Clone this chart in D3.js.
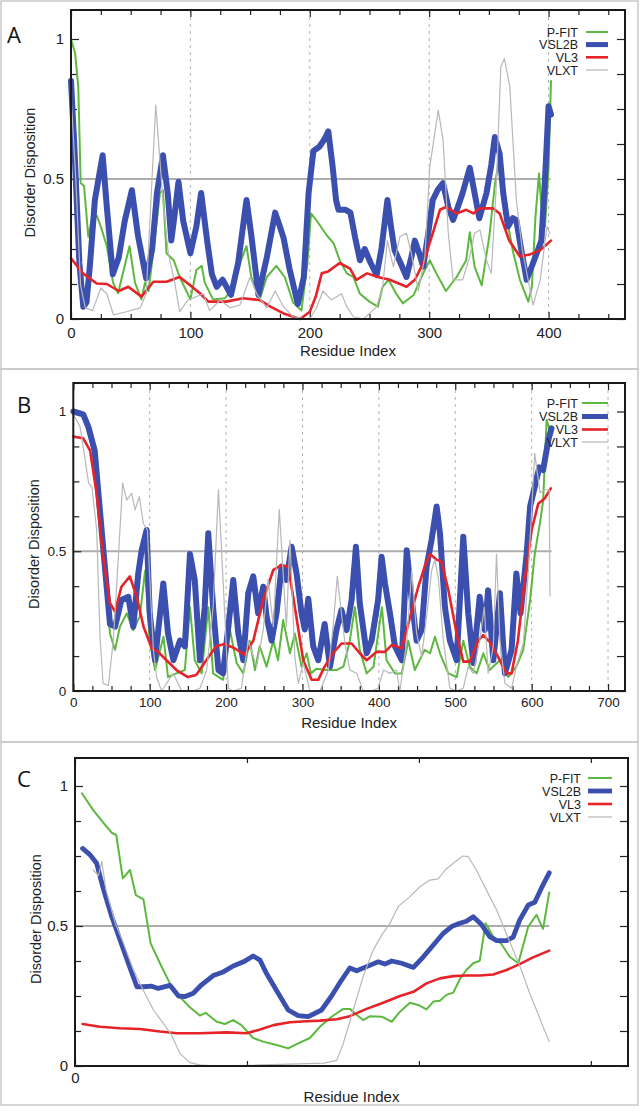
<!DOCTYPE html>
<html><head><meta charset="utf-8">
<script src="https://cdn.jsdelivr.net/npm/d3@7"></script>
<style>body{margin:0;background:#fff}svg{display:block}</style>
</head><body><svg id="c" width="641" height="1115"></svg>
<script>
// ---------- series meta ----------
const seriesNames = ["P-FIT", "VSL2B", "VL3", "VLXT"];
const seriesColors = ["#5cb83e", "#3a4fae", "#e52328", "#b8b8b8"];
const yTickLabels = [0, 0.5, 1];

// ---------- Panel A (residue, disorder) ----------
const pfitA = [[0,1.0],[3.4,0.95],[6.1,0.83],[8.1,0.486],[10.9,0.475],[14.5,0.294],[17.3,0.354],[21.5,0.37],[25,0.33],[30,0.26],[35.2,0.13],[39.4,0.092],[45,0.19],[49,0.26],[53.6,0.13],[59,0.07],[62,0.13],[65,0.1],[70,0.28],[74.5,0.45],[77,0.46],[80,0.235],[86,0.21],[91,0.15],[100,0.07],[105,0.175],[109.5,0.19],[112,0.13],[119,0.07],[129,0.074],[136,0.115],[141.5,0.2],[147,0.26],[151,0.15],[158,0.07],[164,0.15],[172,0.19],[179,0.15],[186,0.06],[193,0.03],[198,0.2],[201,0.377],[206,0.35],[214,0.3],[220,0.27],[225,0.21],[231,0.163],[236.5,0.15],[242,0.09],[250,0.062],[257,0.044],[261,0.115],[266,0.14],[273,0.086],[278,0.056],[287,0.086],[295,0.163],[300.5,0.21],[306,0.163],[314,0.1],[323,0.15],[331,0.21],[334,0.31],[338,0.187],[344,0.12],[350.5,0.3],[355,0.48],[358,0.556],[362,0.425],[370.5,0.235],[376,0.14],[383,0.062],[386,0.115],[389,0.365],[392,0.52],[394,0.4],[397,0.33],[400,0.54],[402,0.85]];
const vsl2bA = [[0,0.85],[3,0.6],[7,0.2],[10.3,0.044],[13,0.06],[16,0.2],[20,0.425],[26.5,0.585],[30,0.4],[35,0.16],[40,0.22],[45,0.35],[51,0.46],[56,0.3],[63,0.145],[68,0.25],[72,0.45],[77,0.585],[81,0.45],[84,0.28],[87,0.38],[90,0.49],[94,0.35],[100,0.235],[105,0.33],[109,0.45],[114,0.28],[118,0.16],[122,0.115],[127,0.14],[134,0.086],[140,0.2],[147,0.425],[151,0.3],[157,0.086],[164,0.22],[171,0.38],[175,0.33],[178,0.29],[183,0.18],[190,0.053],[195,0.15],[199,0.45],[203,0.6],[208,0.615],[212,0.64],[215.5,0.67],[219,0.55],[222,0.425],[224,0.39],[230,0.39],[234,0.38],[238,0.29],[242,0.21],[246,0.25],[251,0.2],[256,0.157],[260,0.25],[265,0.425],[268,0.33],[271,0.246],[276,0.2],[281,0.15],[285,0.22],[288,0.28],[292,0.23],[295,0.187],[299,0.3],[303,0.425],[307,0.46],[311.6,0.485],[316,0.4],[320,0.354],[324,0.4],[328,0.45],[334,0.54],[338,0.45],[342,0.36],[348,0.45],[352,0.55],[355,0.65],[359,0.59],[362,0.45],[366,0.33],[370,0.36],[373,0.353],[377,0.25],[381.6,0.14],[387,0.2],[394,0.28],[397,0.5],[400,0.76],[402,0.73]];
const vl3A = [[0,0.217],[10,0.163],[21.5,0.127],[30,0.125],[40,0.1],[48,0.115],[59,0.08],[69,0.133],[80,0.133],[91,0.15],[100,0.12],[108,0.092],[115,0.062],[130,0.062],[144,0.074],[158,0.068],[167,0.044],[178,0.02],[192,0.0],[200,0.026],[205,0.08],[210,0.163],[215.5,0.17],[225,0.2],[233.7,0.18],[239,0.14],[248,0.163],[257,0.15],[267,0.14],[281,0.115],[288,0.14],[295,0.2],[303,0.306],[309,0.39],[314,0.4],[323,0.377],[331,0.39],[337,0.377],[342,0.395],[353.6,0.395],[359,0.377],[367,0.28],[376,0.223],[384,0.23],[393,0.246],[402,0.28]];
const vlxtA = [[0,0.8],[4,0.5],[8,0.12],[12,0.04],[18,0.03],[25,0.11],[30,0.09],[35.5,0.015],[46.6,0.026],[58,0.04],[63,0.09],[71,0.764],[77,0.425],[81.5,0.235],[87,0.127],[91,0.026],[98,0.068],[105,0.08],[111,0.09],[116,0.03],[125,0.068],[133,0.04],[141.5,0.05],[150,0.15],[155.5,0.09],[164,0.04],[171,0.1],[178,0.044],[186,0.008],[197,0],[200,0],[206,0.044],[211,0.1],[218,0.068],[226.6,0.09],[231,0.044],[236.5,0.008],[245,0],[256,0.044],[261,0.115],[265,0.28],[270,0.187],[275.5,0.294],[281,0.306],[285,0.235],[290.9,0.1],[296.4,0.223],[300.5,0.544],[307.6,0.746],[311.6,0.64],[316,0.306],[320,0.14],[328,0.14],[334,0.223],[338,0.306],[342.5,0.318],[348,0.21],[352,0.163],[356,0.46],[360,0.9],[363,0.93],[367.5,0.83],[373,0.425],[378,0.246],[387,0.05],[393,0.14],[398.6,0.33],[401,0.306]];

// ---------- Panel B ----------
const pfitB = [[0,1.0],[13,0.99],[22,0.91],[30.5,0.78],[39,0.49],[48,0.206],[54.6,0.147],[61,0.23],[70,0.278],[78.5,0.218],[87,0.266],[94,0.43],[100,0.18],[107,0.075],[118,0.194],[124,0.05],[135,0.063],[146,0.075],[152.7,0.3],[159,0.11],[168,0.063],[176.7,0.3],[183,0.063],[196,0.04],[205,0.218],[213.8,0.1],[222.5,0.063],[231,0.18],[237.8,0.075],[244,0.16],[253,0.087],[261.8,0.18],[268,0.11],[274.7,0.254],[283.6,0.135],[290,0.206],[298.8,0.087],[305.5,0.135],[311,0.063],[318.6,0.08],[331.6,0.075],[344.5,0.075],[353.6,0.087],[362,0.18],[368.6,0.3],[375,0.147],[384,0.063],[393,0.087],[404,0.3],[410,0.11],[421,0.063],[430,0.063],[438.5,0.18],[447,0.075],[460,0.147],[467,0.135],[473.4,0.194],[480,0.135],[491,0.063],[502,0.05],[510.5,0.18],[519,0.087],[528,0.063],[536.7,0.135],[545,0.075],[558.5,0.11],[569.4,0.05],[580,0.087],[589,0.147],[598,0.326],[604,0.49],[610.8,0.6],[615,0.68],[619.6,0.97],[622,0.95],[625,0.91]];
const vsl2bB = [[0,1.0],[13,0.99],[19.7,0.945],[28,0.86],[39,0.516],[48,0.24],[54.6,0.23],[63,0.326],[72,0.337],[78.5,0.23],[85,0.42],[89.5,0.504],[96,0.576],[100,0.278],[107,0.11],[117.8,0.385],[124,0.206],[131,0.11],[139.6,0.18],[146,0.16],[152.7,0.49],[159,0.397],[165.8,0.11],[172,0.3],[176.7,0.564],[183,0.3],[190,0.075],[196,0.063],[203,0.23],[209.4,0.397],[216,0.206],[222.5,0.11],[229,0.35],[235.6,0.41],[242,0.278],[248.6,0.373],[253,0.266],[259.6,0.18],[266,0.278],[272.7,0.445],[279,0.397],[285.8,0.516],[292.3,0.42],[298.8,0.278],[303,0.22],[307.6,0.33],[314,0.16],[320.7,0.11],[329,0.24],[336,0.087],[344.5,0.218],[351,0.29],[357.8,0.218],[364.3,0.326],[370,0.516],[375,0.314],[384,0.135],[390.5,0.18],[399,0.326],[403.6,0.48],[408,0.385],[414.5,0.278],[421,0.16],[430,0.11],[436.5,0.504],[443,0.326],[449.4,0.18],[456,0.218],[462.5,0.445],[469,0.54],[475.6,0.66],[480,0.564],[486.5,0.3],[493,0.18],[501.8,0.11],[510.5,0.552],[517,0.278],[523.6,0.1],[532,0.337],[538.8,0.218],[543,0.36],[549.8,0.11],[558.5,0.35],[565,0.063],[573.7,0.147],[580,0.42],[585.5,0.278],[593.4,0.49],[598,0.66],[604,0.73],[610,0.8],[615,0.79],[622,0.9],[626,0.94]];
const vl3B = [[0,0.91],[13,0.904],[22,0.86],[30.5,0.707],[39,0.48],[48,0.314],[54.6,0.284],[63,0.373],[74,0.41],[83,0.337],[92,0.23],[102.6,0.153],[111,0.14],[122,0.11],[135,0.075],[150,0.05],[161,0.057],[174,0.11],[187,0.16],[198,0.168],[211,0.153],[224,0.13],[235.6,0.18],[248.6,0.326],[261.8,0.433],[272.7,0.45],[281.4,0.445],[290,0.3],[301,0.11],[312,0.04],[320.6,0.04],[329,0.087],[340,0.135],[351,0.17],[364.3,0.17],[375,0.135],[384,0.11],[397,0.14],[408,0.14],[417,0.165],[430,0.153],[441,0.266],[451.6,0.373],[460,0.445],[467,0.49],[475.6,0.47],[482,0.463],[491,0.36],[501.8,0.206],[510.5,0.105],[519,0.105],[530,0.18],[536.7,0.2],[545,0.176],[556,0.123],[567,0.063],[573.7,0.063],[582,0.18],[591,0.397],[600,0.576],[608.6,0.67],[617.4,0.69],[625,0.725]];
const vlxtB = [[0,0.99],[8.7,0.946],[15,0.838],[20,0.744],[24.4,0.73],[30.6,0.576],[35,0.194],[39,0.027],[46,0.02],[52.4,0.182],[59,0.48],[64.6,0.744],[69.9,0.683],[76.4,0.707],[80.8,0.648],[86.5,0.695],[91.6,0.6],[97,0.576],[104.8,0.147],[109,0.05],[115.6,0],[122,0.027],[131,0.063],[141.8,0],[157,0],[165.8,0.01],[174.6,0.075],[183,0.3],[190,0.72],[196,0.4],[202.9,0.01],[209.4,0],[220,0.01],[229,0.18],[240,0.087],[248.6,0.218],[255,0.4],[261.8,0.23],[269.6,0.65],[274.7,0.42],[279,0.23],[283.6,0.54],[290,0.123],[294.5,0.027],[301,0.1],[309.8,0],[323,0],[334,0.075],[340.4,0.24],[345.6,0.41],[351,0.278],[355.7,0.17],[362,0.075],[371,0.063],[379.6,0],[390.5,0],[399,0.01],[406,0.075],[414.5,0.063],[423,0.075],[427.6,0],[436.5,0.18],[443,0.43],[449.4,0.206],[456,0.123],[462.5,0.266],[469,0.43],[473.4,0.47],[478,0.4],[484.4,0.18],[493,0.01],[502,0],[510.5,0.01],[517,0.087],[523.6,0.063],[532,0.18],[538,0.3],[543,0.063],[549.8,0.16],[554,0.49],[558.5,0.18],[565,0.027],[573.7,0.01],[580,0.087],[589,0.17],[595.5,0.42],[604,0.85],[611,0.71],[617.4,0.72],[623,0.72],[624,0.34]];

// ---------- Panel C ----------
const pfitC = [[2,0.974],[5.3,0.914],[8.8,0.86],[10.7,0.833],[12,0.825],[13.9,0.67],[16,0.7],[17.7,0.61],[19.9,0.595],[22,0.438],[24.7,0.367],[28.6,0.27],[33.4,0.21],[36.3,0.18],[38,0.19],[41.2,0.158],[43.6,0.15],[46,0.164],[48.4,0.146],[51.8,0.1],[54.7,0.087],[58.6,0.075],[62,0.063],[64.9,0.081],[68.3,0.1],[71.2,0.14],[74.6,0.176],[78,0.204],[79.9,0.204],[81.4,0.188],[83.8,0.164],[85.8,0.178],[89.2,0.176],[92.1,0.158],[94.5,0.194],[97.4,0.226],[99.8,0.218],[102.2,0.202],[104.2,0.23],[106.1,0.233],[108,0.254],[110,0.262],[111.9,0.31],[113.8,0.343],[115.8,0.367],[117.7,0.376],[119.4,0.51],[121.6,0.462],[124,0.436],[126.4,0.39],[128.9,0.367],[131.8,0.498],[134.2,0.54],[136.1,0.49],[137.9,0.62]];
const vsl2bC = [[2.2,0.777],[4.4,0.754],[6.3,0.724],[8.3,0.63],[10.7,0.533],[13.1,0.45],[15.5,0.367],[18,0.283],[19.9,0.283],[22.3,0.285],[24.2,0.277],[27.6,0.288],[30.1,0.25],[32,0.248],[34.4,0.26],[36.8,0.29],[40.2,0.323],[43.1,0.336],[46,0.357],[49,0.372],[51.8,0.393],[53.8,0.378],[55.7,0.33],[58.6,0.27],[62,0.2],[64.9,0.18],[67.8,0.176],[71.7,0.2],[74.6,0.25],[77.5,0.307],[79.9,0.35],[81.9,0.34],[84.8,0.355],[88.2,0.372],[90.1,0.364],[92.1,0.375],[95,0.367],[98.4,0.352],[101.3,0.39],[104.2,0.432],[107.1,0.474],[109.5,0.498],[111.9,0.51],[113.8,0.517],[115.8,0.533],[118.2,0.505],[120.6,0.462],[122.6,0.448],[125.5,0.448],[127.4,0.46],[129.3,0.521],[131.8,0.575],[133.7,0.585],[135.6,0.635],[137.9,0.69]];
const vl3C = [[2.2,0.15],[7.3,0.14],[13.1,0.135],[18.9,0.132],[24.7,0.123],[29.6,0.117],[36.3,0.117],[44.1,0.12],[49.9,0.117],[53.8,0.13],[57.7,0.146],[62.5,0.156],[67.4,0.16],[71.2,0.162],[76.1,0.167],[79.9,0.178],[84.8,0.204],[89.6,0.226],[94.5,0.25],[98.4,0.265],[102.2,0.295],[106.1,0.313],[110,0.321],[113.8,0.323],[117.7,0.323],[121.6,0.327],[125.5,0.343],[129.3,0.364],[133.2,0.388],[137.9,0.412]];
const vlxtC = [[5.3,0.7],[6.8,0.68],[7.8,0.73],[9,0.63],[11.7,0.51],[14.1,0.438],[17,0.343],[19.9,0.27],[22.8,0.2],[25.7,0.152],[28.1,0.11],[30.5,0.045],[33.4,0.012],[36.3,0.004],[41.2,0],[72.5,0.01],[76.1,0.02],[78,0.08],[80.9,0.2],[83.8,0.32],[86.7,0.414],[89.2,0.468],[91.6,0.51],[94,0.57],[97.4,0.605],[100.3,0.64],[103.2,0.664],[105.6,0.668],[107.6,0.7],[110,0.724],[112.8,0.75],[114.3,0.748],[116.7,0.7],[119.6,0.629],[122.6,0.557],[125,0.486],[127.4,0.414],[129.8,0.343],[132.2,0.26],[134.2,0.2],[136.1,0.14],[137.9,0.087]];

// ---------- layout ----------
const svg = d3.select("#c");
const FONT = "'Liberation Sans', Arial, Helvetica, sans-serif";

const panels = [
  {letter:"A", box:[1,1,637,368], L:71, R:625, T:10, B:319, xmax:464, ymax:309/280,
   series:[pfitA, vsl2bA, vl3A, vlxtA], widths:[2,6,2.6,1.2], halfEnd:401.7,
   xStep:25, xMajor:100, xLabelMax:400, grid:[100,200,300,400], tickFont:15,
   letterPos:[7,43], yLabX:30, yLabDy:8, xLabY:356, tickBase:19,
   legX:578, legL:586, legR:608, legY:[32,44.6,57.3,70]},
  {letter:"B", box:[1,369,637,373], L:73.3, R:625, T:383, B:691, xmax:722.2, ymax:308/279.5,
   series:[pfitB, vsl2bB, vl3B, vlxtB], widths:[2,6,2.6,1.2], halfEnd:626,
   xStep:25, xMajor:100, xLabelMax:700, grid:[100,200,300,400,500,600,700], tickFont:13.5,
   letterPos:[17,413], yLabX:34, yLabDy:7, xLabY:728, tickBase:16,
   legX:578, legL:582, legR:608, legY:[403,416.5,429.5,442]},
  {letter:"C", box:[1,742,637,363], L:75, R:628, T:758, B:1066, xmax:160.8, ymax:1.1,
   series:[pfitC, vsl2bC, vl3C, vlxtC], widths:[2,4.8,2.6,1.2], halfEnd:137.9,
   xStep:50, xMajor:1000, xLabelMax:0, grid:[], tickFont:15,
   letterPos:[17,787], yLabX:36, yLabDy:7, xLabY:1102, tickBase:17,
   legX:581, legL:588, legR:612, legY:[778,791,804,817]}
];

panels.forEach(p => {
  const g = svg.append("g");
  g.append("rect").attr("x",p.box[0]).attr("y",p.box[1]).attr("width",p.box[2]).attr("height",p.box[3])
    .attr("fill","none").attr("stroke","#c9c9c9").attr("stroke-width",1.5);

  const x = d3.scaleLinear().domain([0,p.xmax]).range([p.L,p.R]);
  const y = d3.scaleLinear().domain([0,p.ymax]).range([p.B,p.T]);

  g.selectAll(".grid").data(p.grid).join("line")
    .attr("x1",d=>x(d)).attr("x2",d=>x(d)).attr("y1",p.T).attr("y2",p.B)
    .attr("stroke","#b4b4b4").attr("stroke-width",1).attr("stroke-dasharray","3,4");

  g.append("line").attr("x1",x(0)).attr("x2",x(p.halfEnd)).attr("y1",y(0.5)).attr("y2",y(0.5))
    .attr("stroke","#adadad").attr("stroke-width",1.8);

  const xt = d3.range(0, p.xmax, p.xStep);
  const yt = d3.range(0, 1.0001, 0.125);
  const isMajX = d => d % p.xMajor === 0;
  const isMajY = d => yTickLabels.some(v => Math.abs(v-d) < 1e-6);

  const axB = g.append("g").attr("transform",`translate(0,${p.B})`)
    .call(d3.axisBottom(x).tickValues(xt).tickSize(-5).tickPadding(p.tickBase-p.tickFont*0.72)
      .tickFormat(d => (d <= p.xLabelMax && (isMajX(d) || d===0)) ? d3.format("d")(d) : ""));
  axB.selectAll(".tick line").attr("y2", d => isMajX(d) ? -7 : -5);
  const axT = g.append("g").attr("transform",`translate(0,${p.T})`)
    .call(d3.axisTop(x).tickValues(xt).tickSize(-5).tickFormat(""));
  axT.selectAll(".tick line").attr("y2", d => isMajX(d) ? 7 : 5);
  const axL = g.append("g").attr("transform",`translate(${p.L},0)`)
    .call(d3.axisLeft(y).tickValues(yt).tickSize(-6).tickPadding(7)
      .tickFormat(d => isMajY(d) ? d3.format("")(d) : ""));
  axL.selectAll(".tick line").attr("x2", d => isMajY(d) ? 8 : 6);
  const axR = g.append("g").attr("transform",`translate(${p.R},0)`)
    .call(d3.axisRight(y).tickValues(yt).tickSize(-8).tickFormat(""));
  [axB,axT,axL,axR].forEach(a => {
    a.select(".domain").remove();
    a.selectAll(".tick line").attr("stroke","#222").attr("stroke-width",1.2);
    a.selectAll("text").attr("font-family",FONT).attr("font-size",p.tickFont).attr("fill","#222");
  });

  const line = d3.line().x(d=>x(d[0])).y(d=>y(d[1])).curve(d3.curveLinear);
  p.series.forEach((s,i) => {
    g.append("path").datum(s).attr("d",line).attr("fill","none")
      .attr("stroke",seriesColors[i]).attr("stroke-width",p.widths[i])
      .attr("stroke-linejoin","round").attr("stroke-linecap","round");
  });

  g.append("rect").attr("x",p.L).attr("y",p.T).attr("width",p.R-p.L).attr("height",p.B-p.T)
    .attr("fill","none").attr("stroke","#1a1a1a").attr("stroke-width",2);

  seriesNames.forEach((n,i) => {
    g.append("text").attr("x",p.legX).attr("y",p.legY[i]).attr("dy","0.36em")
      .attr("text-anchor","end").attr("font-family",FONT).attr("font-size",12.5).attr("fill","#222").text(n);
    g.append("line").attr("x1",p.legL).attr("x2",p.legR).attr("y1",p.legY[i]).attr("y2",p.legY[i])
      .attr("stroke",seriesColors[i]).attr("stroke-width",Math.min(p.widths[i],5));
  });

  g.append("text").attr("transform",`translate(${p.yLabX},${(p.T+p.B)/2+p.yLabDy}) rotate(-90)`)
    .attr("text-anchor","middle").attr("dy","0.35em").attr("font-family",FONT).attr("font-size",14.5)
    .attr("fill","#222").text("Disorder Disposition");
  g.append("text").attr("x",(p.L+p.R)/2).attr("y",p.xLabY).attr("text-anchor","middle")
    .attr("font-family",FONT).attr("font-size",15).attr("fill","#222").text("Residue Index");

  g.append("text").attr("x",p.letterPos[0]).attr("y",p.letterPos[1])
    .attr("font-family","'Open Sans','Noto Sans',sans-serif").attr("font-size",22).attr("fill","#111").text(p.letter);
});
</script></body></html>
